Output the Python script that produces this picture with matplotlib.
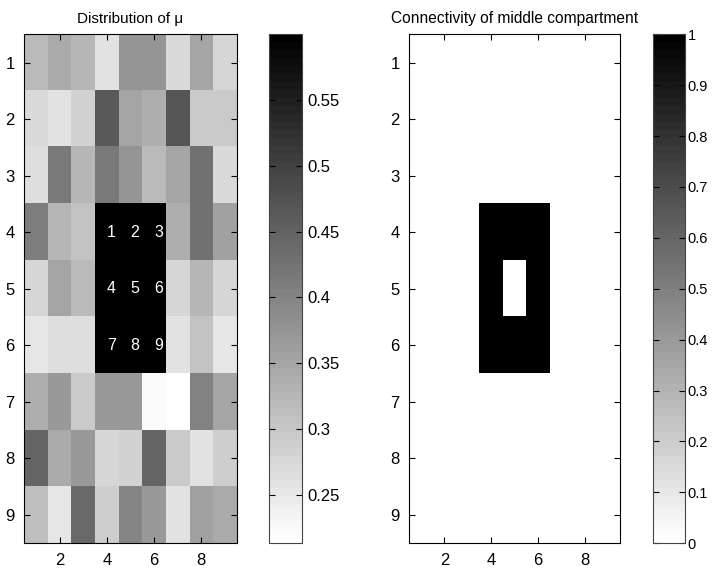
import numpy as np
import matplotlib
matplotlib.use('Agg')
from matplotlib import pyplot as plt

plt.rcParams['font.family'] = ['Liberation Sans', 'DejaVu Sans']
plt.rcParams['font.size'] = 11

###mu values on the 9x9 grid (rows top to bottom)
mu = [
    [0.317, 0.345, 0.322, 0.256, 0.372, 0.372, 0.271, 0.350, 0.274],
    [0.271, 0.256, 0.281, 0.463, 0.350, 0.334, 0.471, 0.296, 0.296],
    [0.264, 0.418, 0.327, 0.418, 0.372, 0.319, 0.350, 0.425, 0.271],
    [0.410, 0.327, 0.304, 0.600, 0.600, 0.600, 0.334, 0.425, 0.357],
    [0.274, 0.350, 0.319, 0.600, 0.600, 0.600, 0.274, 0.327, 0.274],
    [0.251, 0.266, 0.266, 0.600, 0.600, 0.600, 0.259, 0.304, 0.251],
    [0.334, 0.365, 0.296, 0.365, 0.365, 0.224, 0.213, 0.403, 0.350],
    [0.448, 0.342, 0.365, 0.274, 0.281, 0.448, 0.296, 0.259, 0.289],
    [0.312, 0.251, 0.441, 0.289, 0.395, 0.365, 0.259, 0.357, 0.342],
]
###connectivity of the middle compartment
conn = [
    [0, 0, 0, 0, 0, 0, 0, 0, 0],
    [0, 0, 0, 0, 0, 0, 0, 0, 0],
    [0, 0, 0, 0, 0, 0, 0, 0, 0],
    [0, 0, 0, 1, 1, 1, 0, 0, 0],
    [0, 0, 0, 1, 0, 1, 0, 0, 0],
    [0, 0, 0, 1, 1, 1, 0, 0, 0],
    [0, 0, 0, 0, 0, 0, 0, 0, 0],
    [0, 0, 0, 0, 0, 0, 0, 0, 0],
    [0, 0, 0, 0, 0, 0, 0, 0, 0],
]
###compartment labels (row, col, text)
lab_rows = [4, 4, 4, 5, 5, 5, 6, 6, 6]
lab_cols = [4, 5, 6, 4, 5, 6, 4, 5, 6]
lab_txt = ['1', '2', '3', '4', '5', '6', '7', '8', '9']

cmap = plt.get_cmap('gray_r', 64)
ext = [0.5, 9.5, 9.5, 0.5]

fig = plt.figure(figsize=(7.12, 5.74), dpi=100)
ax1 = fig.add_axes([0.0341, 0.0535, 0.2983, 0.8868])
cax1 = fig.add_axes([0.3782, 0.0535, 0.0455, 0.8868])
ax2 = fig.add_axes([0.5749, 0.0535, 0.2959, 0.8868])
cax2 = fig.add_axes([0.9176, 0.0535, 0.0445, 0.8868])

im1 = ax1.imshow(np.array(mu), cmap=cmap, aspect='auto', extent=ext, interpolation='nearest')
for r, c, t in zip(lab_rows, lab_cols, lab_txt):
	ax1.text(c, r, t, color='white', ha='left', va='center', fontsize=11.5)
ax1.set_title('Distribution of μ', fontsize=11, pad=8)
cb1 = fig.colorbar(im1, cax=cax1, ticks=[0.25, 0.3, 0.35, 0.4, 0.45, 0.5, 0.55])
cb1.ax.set_yticklabels(['0.25', '0.3', '0.35', '0.4', '0.45', '0.5', '0.55'])

im2 = ax2.imshow(np.array(conn), cmap=cmap, aspect='auto', extent=ext, interpolation='nearest', vmin=0, vmax=1)
ax2.set_title('Connectivity of middle compartment', fontsize=11.2, pad=8)
cb2 = fig.colorbar(im2, cax=cax2, ticks=np.arange(0, 11) / 10.0)
cb2.ax.set_yticklabels(['0', '0.1', '0.2', '0.3', '0.4', '0.5', '0.6', '0.7', '0.8', '0.9', '1'])

for ax in [ax1, ax2]:
	ax.set_xticks([2, 4, 6, 8])
	ax.set_yticks(range(1, 10))
	ax.set_xlim(0.5, 9.5)
	ax.set_ylim(9.5, 0.5)
	ax.tick_params(direction='in', top=True, right=True, length=4, width=0.8, labelsize=12, pad=7)
	for s in ax.spines.values():
		s.set_linewidth(0.8)

cb1.ax.tick_params(direction='in', left=True, right=True, length=4, width=0.8, labelsize=12, pad=4)
###right colorbar labels sit at the figure edge, keep them a bit smaller so they fit
cb2.ax.tick_params(direction='in', left=True, right=True, length=4, width=0.8, labelsize=10.5, pad=2)
for cb in [cb1, cb2]:
	cb.outline.set_linewidth(0.8)
	cb.outline.set_edgecolor('#444444')

plt.savefig('out.png', dpi=100)
plt.close()
